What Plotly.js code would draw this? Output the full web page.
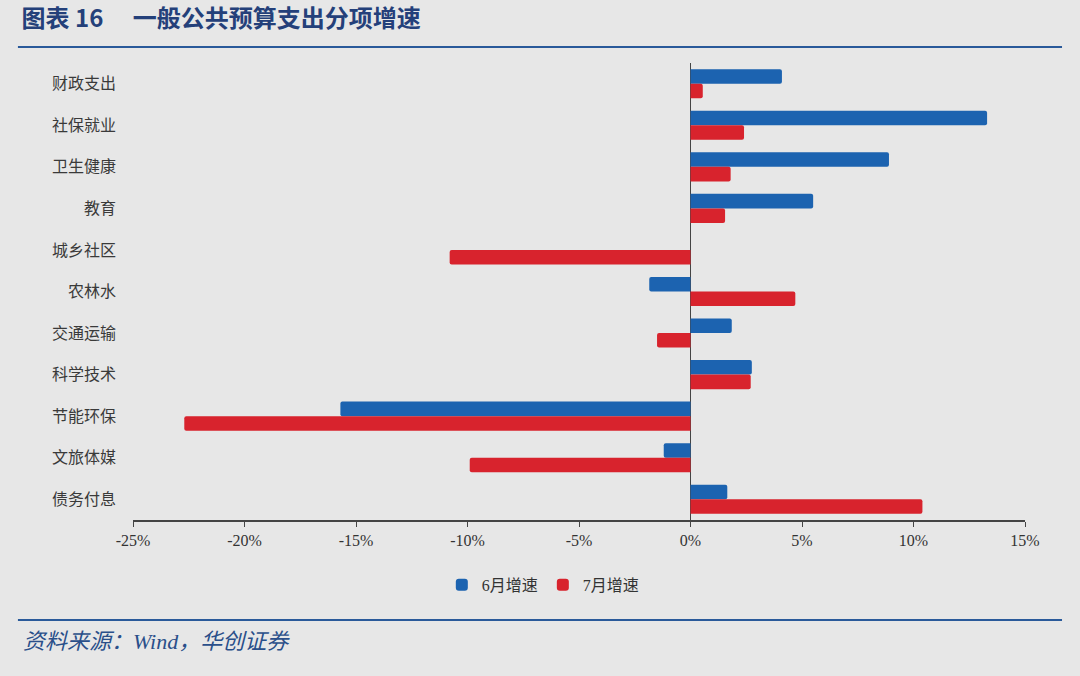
<!DOCTYPE html>
<html>
<head>
<meta charset="utf-8">
<script src="https://cdn.plot.ly/plotly-3.0.1.min.js"></script>
<style>
  body { margin: 0; background: #e7e7e7; }
  #chart { width: 1080px; height: 676px; }
</style>
</head>
<body>
<div id="chart"></div>
<script>
  categories = ['财政支出', '社保就业', '卫生健康', '教育', '城乡社区', '农林水',
                '交通运输', '科学技术', '节能环保', '文旅体媒', '债务付息'];
  june = [4.1, 13.3, 8.9, 5.5, 0, -1.85, 1.85, 2.75, -15.7, -1.2, 1.65];
  july = [0.55, 2.4, 1.8, 1.55, -10.8, 4.7, -1.5, 2.7, -22.7, -9.9, 10.4];
  xTicks = [-25, -20, -15, -10, -5, 0, 5, 10, 15];

  data = [{
    type: 'bar',
    orientation: 'h',
    name: '6月增速',
    y: categories,
    x: june,
    marker: { color: '#1c63b0' },
    hoverinfo: 'skip'
  },
  {
    type: 'bar',
    orientation: 'h',
    name: '7月增速',
    y: categories,
    x: july,
    marker: { color: '#d8232d' },
    hoverinfo: 'skip'
  }];

  layout = {
    width: 1080,
    height: 676,
    paper_bgcolor: '#e7e7e7',
    plot_bgcolor: '#e7e7e7',
    barmode: 'group',
    bargap: 0.3,
    bargroupgap: 0,
    barcornerradius: 2,
    showlegend: true,
    legend: {
      orientation: 'h',
      x: 0.46,
      xanchor: 'center',
      y: -0.142,
      yanchor: 'middle',
      font: { family: 'Liberation Serif, Noto Sans CJK SC', size: 16, color: '#333' },
      itemwidth: 30,
      traceorder: 'normal'
    },
    title: {
      text: '<b>图表 16　 一般公共预算支出分项增速</b>',
      x: 0.02,
      xanchor: 'left',
      xref: 'container',
      y: 1 - 19 / 676,
      yref: 'container',
      yanchor: 'middle',
      font: { family: 'Noto Sans CJK SC', size: 24, color: '#24407a' }
    },
    xaxis: {
      range: [-25, 15],
      tickvals: xTicks,
      ticktext: xTicks.map(v => v + '%'),
      showgrid: false,
      zeroline: true,
      zerolinecolor: '#444',
      zerolinewidth: 1.5,
      showline: true,
      linecolor: '#444',
      linewidth: 1.5,
      ticks: 'outside',
      ticklen: 5,
      tickcolor: '#444',
      tickfont: { family: 'Liberation Serif', size: 16, color: '#333' },
      fixedrange: true
    },
    yaxis: {
      autorange: 'reversed',
      showgrid: false,
      zeroline: false,
      showline: false,
      ticks: '',
      ticklabelstandoff: 16,
      tickfont: { family: 'Noto Sans CJK SC', size: 16, color: '#3a3a3a' },
      fixedrange: true
    },
    yaxis2: {
      overlaying: 'y',
      matches: 'y',
      anchor: 'free',
      position: 0.625,
      showline: true,
      linecolor: '#444',
      linewidth: 1.5,
      ticks: 'outside',
      ticklen: 5,
      tickwidth: 1.5,
      tickcolor: '#555',
      tickson: 'boundaries',
      showticklabels: false,
      showgrid: false,
      zeroline: false,
      fixedrange: true
    },
    margin: { l: 133, r: 55, t: 63, b: 156 },
    shapes: [
      {
        type: 'line', xref: 'paper', yref: 'paper',
        x0: -0.129, x1: 1.0415, y0: 1.035, y1: 1.035,
        line: { color: '#2a5a9a', width: 2 }
      },
      {
        type: 'line', xref: 'paper', yref: 'paper',
        x0: -0.129, x1: 1.0415, y0: -0.2188, y1: -0.2188,
        line: { color: '#2a5a9a', width: 2 }
      }
    ],
    annotations: [{
      text: '<i>资料来源：Wind，华创证券</i>',
      xref: 'paper', yref: 'paper',
      x: -0.126, y: -0.265,
      xanchor: 'left', yanchor: 'middle',
      showarrow: false,
      font: { family: 'Liberation Serif, Noto Sans CJK SC', size: 22, color: '#2a4f8a' }
    }]
  };

  config = { staticPlot: true, displayModeBar: false };
  Plotly.newPlot('chart', data, layout, config);
</script>
</body>
</html>
